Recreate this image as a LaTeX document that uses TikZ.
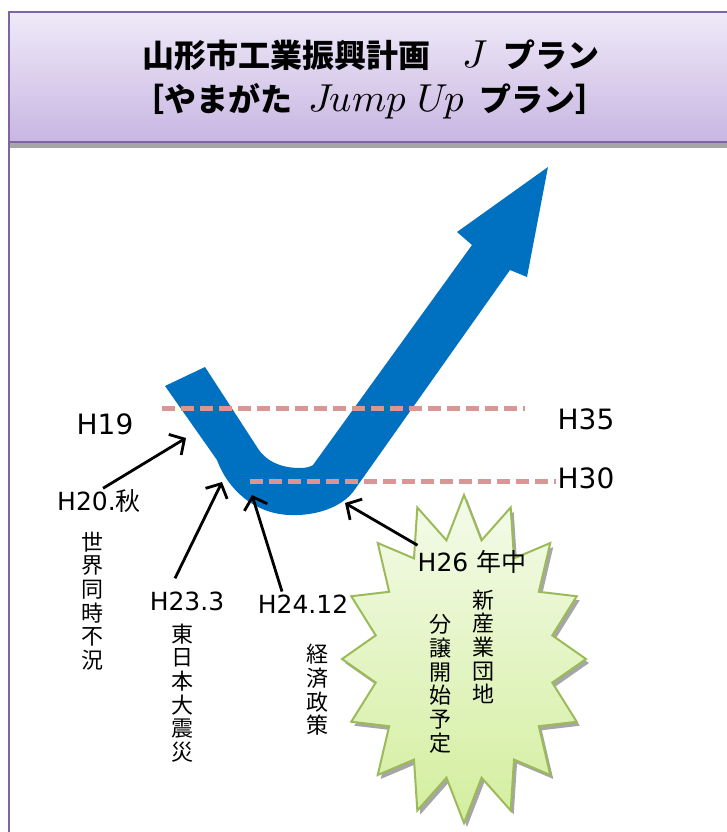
\documentclass[tikz,border=0pt]{standalone}
\usepackage{fontspec}
\newfontfamily\jp{Noto Sans CJK JP}
\newfontfamily\dv{DejaVu Sans}
\newfontfamily\lmm{Latin Modern Math}
\usetikzlibrary{arrows.meta,calc}
\definecolor{hdrtop}{HTML}{EFEAF8}
\definecolor{hdrbot}{HTML}{C8B6E2}
\definecolor{hdrline}{HTML}{8064A2}
\definecolor{hdrgray}{HTML}{A6A6A6}
\definecolor{jblue}{HTML}{0070C0}
\definecolor{dashpink}{HTML}{D99694}
\definecolor{burstline}{HTML}{9BBB59}
\definecolor{bursttop}{HTML}{F4FBEA}
\definecolor{burstbot}{HTML}{D3EE9E}
\newcommand\latinit[1]{{\lmm\mdseries\fontsize{39}{39}\selectfont #1}}
\begin{document}
\begin{tikzpicture}[x=1pt,y=-1pt,
  lbl/.style={inner sep=0pt, font=\dv\fontsize{25}{30}\selectfont},
  lblbig/.style={inner sep=0pt, font=\dv\fontsize{28}{34}\selectfont},
  vtxt/.style={inner sep=0pt, align=center, font=\jp\fontsize{22}{23.7}\selectfont},
  ttl/.style={inner sep=0pt, anchor=west, font=\jp\bfseries\fontsize{32}{38}\selectfont},
  pointer/.style={line width=2.8pt, -{Straight Barb[length=11pt,width=24pt]}},
  level/.style={dashpink, line width=5pt, dash pattern=on 13pt off 6pt},
]
\useasboundingbox (0,0) rectangle (727,832);
\fill[white] (0,0) rectangle (727,832);
\begin{scope}
\clip (0,0) rectangle (727,832);
\fill[hdrgray] (9,142) rectangle (740,148);
\shade[top color=hdrtop, bottom color=hdrbot] (9,12) rectangle (740,142);
\draw[hdrline, line width=2pt] (9,12) rectangle (740,142);
\draw[hdrline, line width=2pt] (9,142) -- (9,840);
\end{scope}

% title
\node[ttl] (t1) at (142,55) {山形市工業振興計画\hspace{1.0em}\latinit{𝐽}\hspace{0.6em}プラン};
\node[ttl] (t2) at (132,101) {［やまがた\hspace{0.5em}\latinit{𝐽𝑢𝑚𝑝\hspace{0.3em}𝑈𝑝}\hspace{0.5em}プラン］};

% blue J arrow
\fill[jblue] (205,367) -- (257,447)
  .. controls (266,462) and (282,468) .. (300,468)
  .. controls (306,468) and (310,467) .. (313,465)
  -- (472,245) -- (457,232) -- (548,167) -- (527,277) -- (510,270)
  -- (353,492)
  .. controls (340,508) and (315,516) .. (290,515)
  .. controls (255,514) and (228,490) .. (217,460)
  -- (165,386) -- cycle;

% level lines
\coordinate (u1) at (162,408); \coordinate (u2) at (525,408);
\coordinate (l1) at (250,481); \coordinate (l2) at (556,481);
\draw[level] (u1) -- (u2);
\draw[level] (l1) -- (l2);

% burst
\begin{scope}[shift={(467,663)}]
\fill[black!35] plot[samples=33, domain=0:32, variable=\k]
  ({(106+16*cos(\k*180))*cos(90+\k*11.25)}, {(142.5+21.5*cos(\k*180))*sin(90+\k*11.25)}) -- cycle;
\end{scope}
\begin{scope}[shift={(464,659)}]
\shade[top color=bursttop, bottom color=burstbot] plot[samples=33, domain=0:32, variable=\k]
  ({(106+16*cos(\k*180))*cos(90+\k*11.25)}, {(142.5+21.5*cos(\k*180))*sin(90+\k*11.25)}) -- cycle;
\draw[burstline, line width=2pt, line join=miter] plot[samples=33, domain=0:32, variable=\k]
  ({(106+16*cos(\k*180))*cos(90+\k*11.25)}, {(142.5+21.5*cos(\k*180))*sin(90+\k*11.25)}) -- cycle;
\end{scope}

% labels
\node[lblbig] (h19) at (105,424) {H19};
\node[lblbig] (h35) at (586,419) {H35};
\node[lblbig] (h30) at (586,478) {H30};
\node[lbl] (h20) at (99,501) {H20.{\jp 秋}};
\node[lbl] (h23) at (187,601) {H23.3};
\node[lbl] (h24) at (303,604) {H24.12};
\node[lbl] (h26) at (472,562) {H26 {\jp 年中}};

\node[vtxt] (v20) at (92,601) {世\\界\\同\\時\\不\\況};
\node[vtxt] (v23) at (182,693) {東\\日\\本\\大\\震\\災};
\node[vtxt] (v24) at (317,690) {経\\済\\政\\策};
\node[vtxt] (v26a) at (483,647) {新\\産\\業\\団\\地};
\node[vtxt] (v26b) at (440,684) {分\\譲\\開\\始\\予\\定};

% pointers
\coordinate (p20) at (186,438);
\coordinate (p23) at (222,482);
\coordinate (p24) at (252,495);
\coordinate (p26) at (345,503);
\draw[pointer] ($(h20.north)+(4,-1)$) -- (p20);
\draw[pointer] ($(h23.north)+(-12,-13)$) -- (p23);
\draw[pointer] ($(h24.north)+(-21,-3)$) -- (p24);
\draw[pointer] ($(h26.north west)+(0,-5)$) -- (p26);
\end{tikzpicture}
\end{document}
